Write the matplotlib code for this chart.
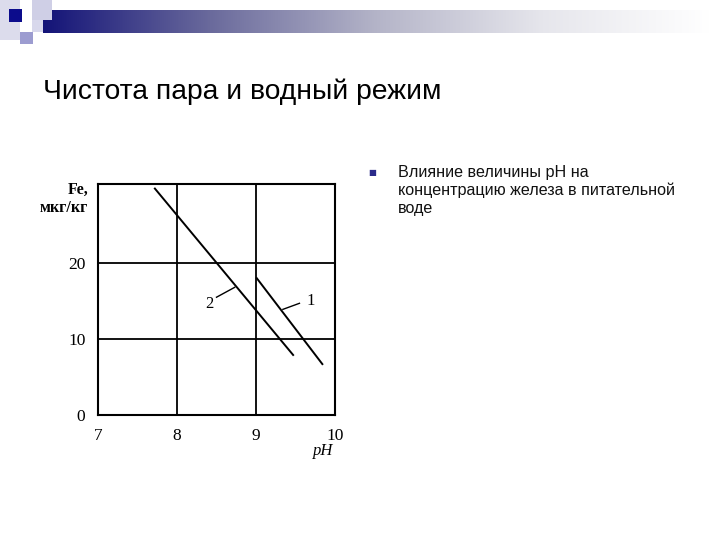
import numpy as np
import matplotlib
matplotlib.use("Agg")
import matplotlib.pyplot as plt
from matplotlib.patches import Rectangle

# data
line1_ph = [9.01, 9.84]
line1_fe = [18.0, 6.7]
line2_ph = [7.72, 9.47]
line2_fe = [29.8, 7.9]
x_ticks = [7, 8, 9, 10]
y_ticks = [0, 10, 20]
grid_x = [8, 9]
grid_y = [10, 20]

title = "Чистота пара и водный режим"
bullet_lines = ["Влияние величины pH на",
                "концентрацию железа в питательной",
                "воде"]

W, H = 720, 540
fig = plt.figure(figsize=(7.2, 5.4), dpi=100)
fig.patch.set_facecolor("white")

# header decoration
hdr = fig.add_axes([0, 0, 1, 1], zorder=0)
hdr.set_xlim(0, W)
hdr.set_ylim(H, 0)
hdr.axis("off")
grad = np.linspace(0, 1, 256)
cmap = matplotlib.colors.LinearSegmentedColormap.from_list(
    "hdr", ["#141478", "#6a6a9c", "#b4b4c8", "#e6e6ec", "#ffffff"])
hdr.imshow(grad[None, :], cmap=cmap, aspect="auto",
           extent=[43, 710, 33, 10], interpolation="bilinear")
hdr.add_patch(Rectangle((0, 0), 20, 40, color="#dcdcec", lw=0))
hdr.add_patch(Rectangle((32, 0), 20, 20, color="#cfcfe6", lw=0))
hdr.add_patch(Rectangle((32, 20), 11, 12, color="#d8d8ec", lw=0))
hdr.add_patch(Rectangle((20, 32), 13, 12, color="#9c9cd0", lw=0))
hdr.add_patch(Rectangle((9, 9), 13, 13, color="#0c0c8c", lw=0))

fig.text(43 / W, 1 - 99 / H, title, fontsize=20.3, family="Liberation Sans",
         ha="left", va="baseline", color="black")

# bullet text
fig.text(372 / W, 1 - 172 / H, "\u25A0", fontsize=6, color="#2a2a8a",
         ha="center", va="center", family="DejaVu Sans")
for i, s in enumerate(bullet_lines):
    fig.text(398 / W, 1 - (172 + 18.3 * i) / H, s, fontsize=11.6,
             family="Liberation Sans", ha="left", va="center", color="#111111")

# chart
ax = fig.add_axes([98 / W, 1 - 415 / H, (335 - 98) / W, (415 - 184) / H])
ax.set_xlim(7, 10)
ax.set_ylim(0, 30.4)
for gx in grid_x:
    ax.axvline(gx, color="black", lw=1.3)
for gy in grid_y:
    ax.axhline(gy, color="black", lw=1.3)
ax.plot(line1_ph, line1_fe, color="black", lw=1.4)
ax.plot(line2_ph, line2_fe, color="black", lw=1.4)

# curve labels with leader lines
ax.plot([8.50, 8.73], [15.5, 16.8], color="black", lw=1.0)
ax.text(8.41, 14.6, "2", fontsize=12, family="Liberation Serif", ha="center", va="center")
ax.plot([9.34, 9.55], [13.9, 14.7], color="black", lw=1.0)
ax.text(9.69, 15.0, "1", fontsize=12, family="Liberation Serif", ha="center", va="center")

ax.set_xticks(x_ticks)
ax.set_yticks(y_ticks)
ax.tick_params(length=0, pad=9, labelsize=12.5)
for lab in ax.get_xticklabels() + ax.get_yticklabels():
    lab.set_family("Liberation Serif")
for sp in ax.spines.values():
    sp.set_linewidth(1.5)

fig.text(88 / W, 1 - 190 / H, "Fe,", fontsize=11.5, family="Liberation Serif",
         weight="bold", ha="right", va="center")
fig.text(88 / W, 1 - 208 / H, "мкг/кг", fontsize=11.5, family="Liberation Serif",
         weight="bold", ha="right", va="center")
fig.text(323 / W, 1 - 451 / H, "pH", fontsize=12, family="Liberation Serif",
         style="italic", ha="center", va="center")

fig.savefig("out.png", dpi=100)
